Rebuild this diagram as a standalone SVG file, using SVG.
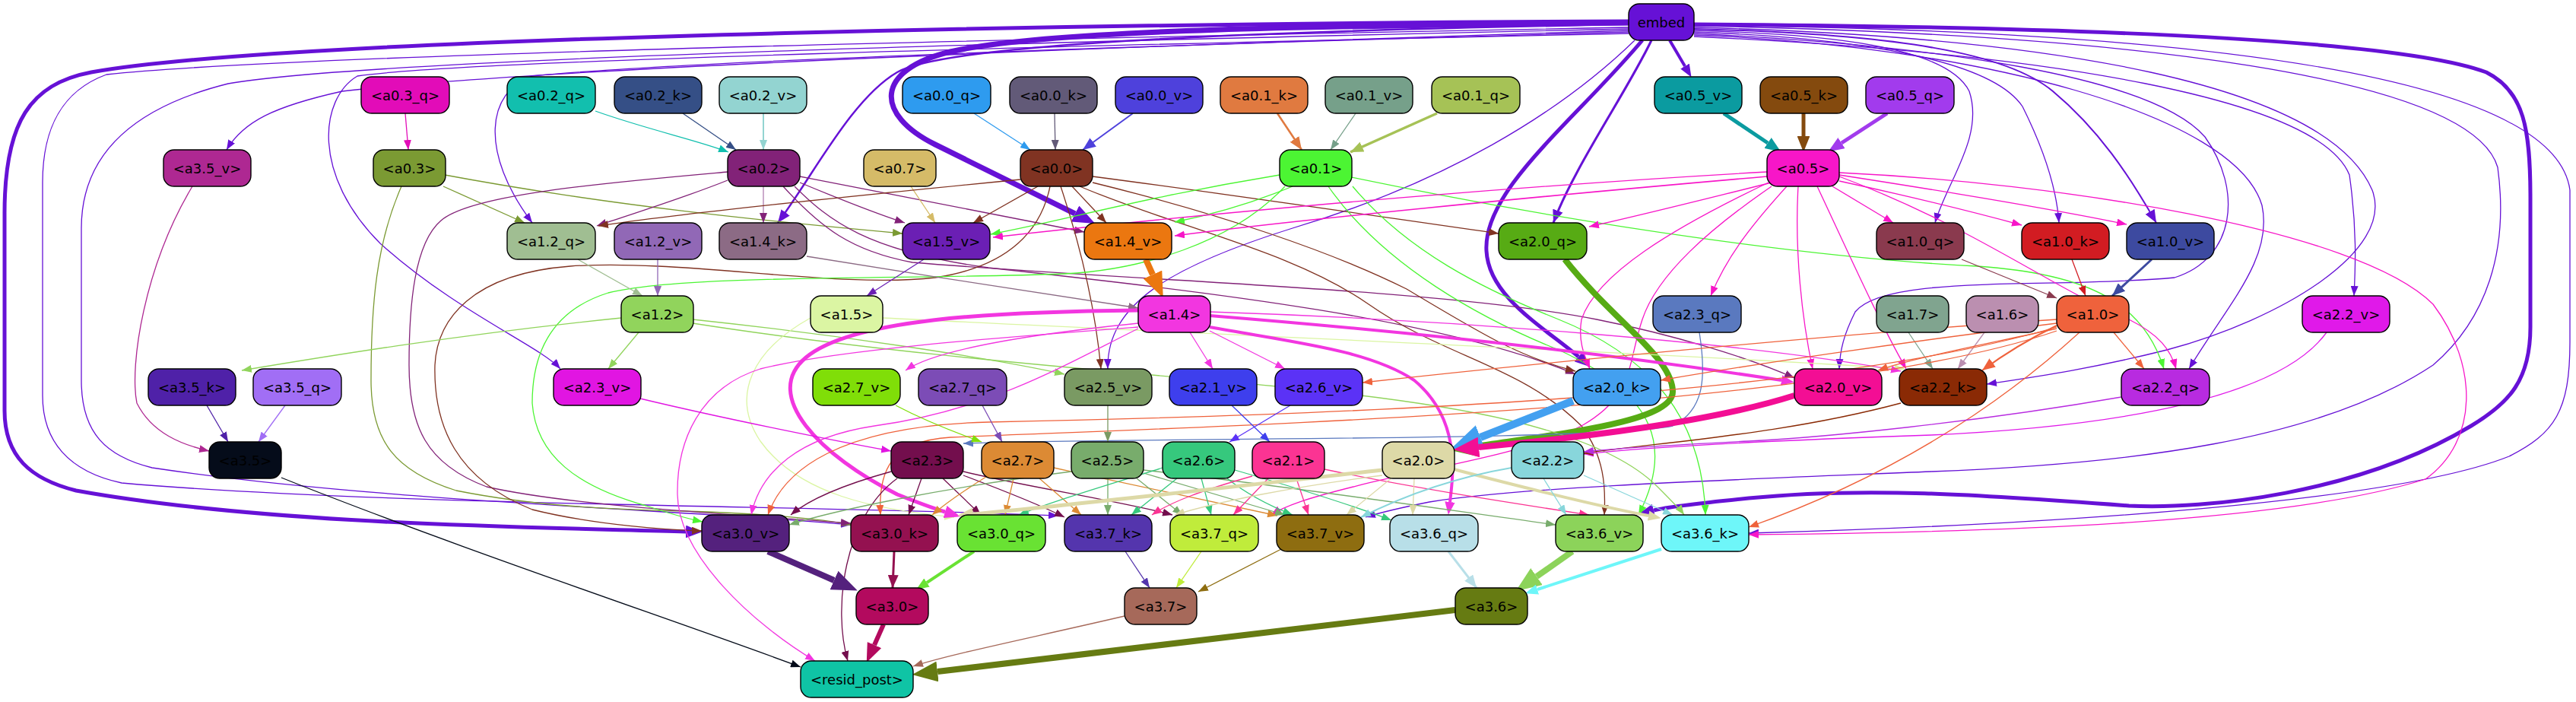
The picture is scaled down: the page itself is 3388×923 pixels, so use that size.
<svg xmlns="http://www.w3.org/2000/svg" width="3388" height="923" viewBox="0 0 3388 923">
<style>
.n rect{stroke:#000;stroke-width:1.4}
.n text{font-family:"DejaVu Sans","Liberation Sans",sans-serif;font-size:18px;text-anchor:middle;fill:#000}
</style>
<defs>
<marker id="m6611d6" viewBox="0 0 13 10" refX="13" refY="5" markerWidth="13" markerHeight="10" markerUnits="userSpaceOnUse" orient="auto"><path d="M0,0L13,5L0,10z" fill="#6611d6"/></marker>
<marker id="me20cb8" viewBox="0 0 13 10" refX="13" refY="5" markerWidth="13" markerHeight="10" markerUnits="userSpaceOnUse" orient="auto"><path d="M0,0L13,5L0,10z" fill="#e20cb8"/></marker>
<marker id="m12bfae" viewBox="0 0 13 10" refX="13" refY="5" markerWidth="13" markerHeight="10" markerUnits="userSpaceOnUse" orient="auto"><path d="M0,0L13,5L0,10z" fill="#12bfae"/></marker>
<marker id="m354f86" viewBox="0 0 13 10" refX="13" refY="5" markerWidth="13" markerHeight="10" markerUnits="userSpaceOnUse" orient="auto"><path d="M0,0L13,5L0,10z" fill="#354f86"/></marker>
<marker id="m93d4d1" viewBox="0 0 13 10" refX="13" refY="5" markerWidth="13" markerHeight="10" markerUnits="userSpaceOnUse" orient="auto"><path d="M0,0L13,5L0,10z" fill="#93d4d1"/></marker>
<marker id="m2e9bef" viewBox="0 0 13 10" refX="13" refY="5" markerWidth="13" markerHeight="10" markerUnits="userSpaceOnUse" orient="auto"><path d="M0,0L13,5L0,10z" fill="#2e9bef"/></marker>
<marker id="m625a78" viewBox="0 0 13 10" refX="13" refY="5" markerWidth="13" markerHeight="10" markerUnits="userSpaceOnUse" orient="auto"><path d="M0,0L13,5L0,10z" fill="#625a78"/></marker>
<marker id="m76a08a" viewBox="0 0 13 10" refX="13" refY="5" markerWidth="13" markerHeight="10" markerUnits="userSpaceOnUse" orient="auto"><path d="M0,0L13,5L0,10z" fill="#76a08a"/></marker>
<marker id="m7b9a33" viewBox="0 0 13 10" refX="13" refY="5" markerWidth="13" markerHeight="10" markerUnits="userSpaceOnUse" orient="auto"><path d="M0,0L13,5L0,10z" fill="#7b9a33"/></marker>
<marker id="m822278" viewBox="0 0 13 10" refX="13" refY="5" markerWidth="13" markerHeight="10" markerUnits="userSpaceOnUse" orient="auto"><path d="M0,0L13,5L0,10z" fill="#822278"/></marker>
<marker id="md5bb68" viewBox="0 0 13 10" refX="13" refY="5" markerWidth="13" markerHeight="10" markerUnits="userSpaceOnUse" orient="auto"><path d="M0,0L13,5L0,10z" fill="#d5bb68"/></marker>
<marker id="m803322" viewBox="0 0 13 10" refX="13" refY="5" markerWidth="13" markerHeight="10" markerUnits="userSpaceOnUse" orient="auto"><path d="M0,0L13,5L0,10z" fill="#803322"/></marker>
<marker id="m4cf533" viewBox="0 0 13 10" refX="13" refY="5" markerWidth="13" markerHeight="10" markerUnits="userSpaceOnUse" orient="auto"><path d="M0,0L13,5L0,10z" fill="#4cf533"/></marker>
<marker id="mf716c8" viewBox="0 0 13 10" refX="13" refY="5" markerWidth="13" markerHeight="10" markerUnits="userSpaceOnUse" orient="auto"><path d="M0,0L13,5L0,10z" fill="#f716c8"/></marker>
<marker id="ma0be92" viewBox="0 0 13 10" refX="13" refY="5" markerWidth="13" markerHeight="10" markerUnits="userSpaceOnUse" orient="auto"><path d="M0,0L13,5L0,10z" fill="#a0be92"/></marker>
<marker id="m9168b6" viewBox="0 0 13 10" refX="13" refY="5" markerWidth="13" markerHeight="10" markerUnits="userSpaceOnUse" orient="auto"><path d="M0,0L13,5L0,10z" fill="#9168b6"/></marker>
<marker id="m8c6b85" viewBox="0 0 13 10" refX="13" refY="5" markerWidth="13" markerHeight="10" markerUnits="userSpaceOnUse" orient="auto"><path d="M0,0L13,5L0,10z" fill="#8c6b85"/></marker>
<marker id="m6b1fb4" viewBox="0 0 13 10" refX="13" refY="5" markerWidth="13" markerHeight="10" markerUnits="userSpaceOnUse" orient="auto"><path d="M0,0L13,5L0,10z" fill="#6b1fb4"/></marker>
<marker id="m8a3a4e" viewBox="0 0 13 10" refX="13" refY="5" markerWidth="13" markerHeight="10" markerUnits="userSpaceOnUse" orient="auto"><path d="M0,0L13,5L0,10z" fill="#8a3a4e"/></marker>
<marker id="md21c22" viewBox="0 0 13 10" refX="13" refY="5" markerWidth="13" markerHeight="10" markerUnits="userSpaceOnUse" orient="auto"><path d="M0,0L13,5L0,10z" fill="#d21c22"/></marker>
<marker id="m91d45c" viewBox="0 0 13 10" refX="13" refY="5" markerWidth="13" markerHeight="10" markerUnits="userSpaceOnUse" orient="auto"><path d="M0,0L13,5L0,10z" fill="#91d45c"/></marker>
<marker id="mdbf5a3" viewBox="0 0 13 10" refX="13" refY="5" markerWidth="13" markerHeight="10" markerUnits="userSpaceOnUse" orient="auto"><path d="M0,0L13,5L0,10z" fill="#dbf5a3"/></marker>
<marker id="mf236e0" viewBox="0 0 13 10" refX="13" refY="5" markerWidth="13" markerHeight="10" markerUnits="userSpaceOnUse" orient="auto"><path d="M0,0L13,5L0,10z" fill="#f236e0"/></marker>
<marker id="m5a79bf" viewBox="0 0 13 10" refX="13" refY="5" markerWidth="13" markerHeight="10" markerUnits="userSpaceOnUse" orient="auto"><path d="M0,0L13,5L0,10z" fill="#5a79bf"/></marker>
<marker id="m80a48f" viewBox="0 0 13 10" refX="13" refY="5" markerWidth="13" markerHeight="10" markerUnits="userSpaceOnUse" orient="auto"><path d="M0,0L13,5L0,10z" fill="#80a48f"/></marker>
<marker id="mbb8fb0" viewBox="0 0 13 10" refX="13" refY="5" markerWidth="13" markerHeight="10" markerUnits="userSpaceOnUse" orient="auto"><path d="M0,0L13,5L0,10z" fill="#bb8fb0"/></marker>
<marker id="mef623c" viewBox="0 0 13 10" refX="13" refY="5" markerWidth="13" markerHeight="10" markerUnits="userSpaceOnUse" orient="auto"><path d="M0,0L13,5L0,10z" fill="#ef623c"/></marker>
<marker id="me019e9" viewBox="0 0 13 10" refX="13" refY="5" markerWidth="13" markerHeight="10" markerUnits="userSpaceOnUse" orient="auto"><path d="M0,0L13,5L0,10z" fill="#e019e9"/></marker>
<marker id="m4f21a8" viewBox="0 0 13 10" refX="13" refY="5" markerWidth="13" markerHeight="10" markerUnits="userSpaceOnUse" orient="auto"><path d="M0,0L13,5L0,10z" fill="#4f21a8"/></marker>
<marker id="ma16ef5" viewBox="0 0 13 10" refX="13" refY="5" markerWidth="13" markerHeight="10" markerUnits="userSpaceOnUse" orient="auto"><path d="M0,0L13,5L0,10z" fill="#a16ef5"/></marker>
<marker id="mae2892" viewBox="0 0 13 10" refX="13" refY="5" markerWidth="13" markerHeight="10" markerUnits="userSpaceOnUse" orient="auto"><path d="M0,0L13,5L0,10z" fill="#ae2892"/></marker>
<marker id="me115e2" viewBox="0 0 13 10" refX="13" refY="5" markerWidth="13" markerHeight="10" markerUnits="userSpaceOnUse" orient="auto"><path d="M0,0L13,5L0,10z" fill="#e115e2"/></marker>
<marker id="m80de08" viewBox="0 0 13 10" refX="13" refY="5" markerWidth="13" markerHeight="10" markerUnits="userSpaceOnUse" orient="auto"><path d="M0,0L13,5L0,10z" fill="#80de08"/></marker>
<marker id="m7c4cb6" viewBox="0 0 13 10" refX="13" refY="5" markerWidth="13" markerHeight="10" markerUnits="userSpaceOnUse" orient="auto"><path d="M0,0L13,5L0,10z" fill="#7c4cb6"/></marker>
<marker id="m7a9a63" viewBox="0 0 13 10" refX="13" refY="5" markerWidth="13" markerHeight="10" markerUnits="userSpaceOnUse" orient="auto"><path d="M0,0L13,5L0,10z" fill="#7a9a63"/></marker>
<marker id="m3e3fed" viewBox="0 0 13 10" refX="13" refY="5" markerWidth="13" markerHeight="10" markerUnits="userSpaceOnUse" orient="auto"><path d="M0,0L13,5L0,10z" fill="#3e3fed"/></marker>
<marker id="m5b32f6" viewBox="0 0 13 10" refX="13" refY="5" markerWidth="13" markerHeight="10" markerUnits="userSpaceOnUse" orient="auto"><path d="M0,0L13,5L0,10z" fill="#5b32f6"/></marker>
<marker id="m8a2a05" viewBox="0 0 13 10" refX="13" refY="5" markerWidth="13" markerHeight="10" markerUnits="userSpaceOnUse" orient="auto"><path d="M0,0L13,5L0,10z" fill="#8a2a05"/></marker>
<marker id="mb82be0" viewBox="0 0 13 10" refX="13" refY="5" markerWidth="13" markerHeight="10" markerUnits="userSpaceOnUse" orient="auto"><path d="M0,0L13,5L0,10z" fill="#b82be0"/></marker>
<marker id="m050c1a" viewBox="0 0 13 10" refX="13" refY="5" markerWidth="13" markerHeight="10" markerUnits="userSpaceOnUse" orient="auto"><path d="M0,0L13,5L0,10z" fill="#050c1a"/></marker>
<marker id="m730e4d" viewBox="0 0 13 10" refX="13" refY="5" markerWidth="13" markerHeight="10" markerUnits="userSpaceOnUse" orient="auto"><path d="M0,0L13,5L0,10z" fill="#730e4d"/></marker>
<marker id="mdc8a34" viewBox="0 0 13 10" refX="13" refY="5" markerWidth="13" markerHeight="10" markerUnits="userSpaceOnUse" orient="auto"><path d="M0,0L13,5L0,10z" fill="#dc8a34"/></marker>
<marker id="m78ac6c" viewBox="0 0 13 10" refX="13" refY="5" markerWidth="13" markerHeight="10" markerUnits="userSpaceOnUse" orient="auto"><path d="M0,0L13,5L0,10z" fill="#78ac6c"/></marker>
<marker id="m36c87d" viewBox="0 0 13 10" refX="13" refY="5" markerWidth="13" markerHeight="10" markerUnits="userSpaceOnUse" orient="auto"><path d="M0,0L13,5L0,10z" fill="#36c87d"/></marker>
<marker id="mfb3493" viewBox="0 0 13 10" refX="13" refY="5" markerWidth="13" markerHeight="10" markerUnits="userSpaceOnUse" orient="auto"><path d="M0,0L13,5L0,10z" fill="#fb3493"/></marker>
<marker id="mddd9a7" viewBox="0 0 13 10" refX="13" refY="5" markerWidth="13" markerHeight="10" markerUnits="userSpaceOnUse" orient="auto"><path d="M0,0L13,5L0,10z" fill="#ddd9a7"/></marker>
<marker id="m88d6db" viewBox="0 0 13 10" refX="13" refY="5" markerWidth="13" markerHeight="10" markerUnits="userSpaceOnUse" orient="auto"><path d="M0,0L13,5L0,10z" fill="#88d6db"/></marker>
<marker id="m5435ad" viewBox="0 0 13 10" refX="13" refY="5" markerWidth="13" markerHeight="10" markerUnits="userSpaceOnUse" orient="auto"><path d="M0,0L13,5L0,10z" fill="#5435ad"/></marker>
<marker id="mc0ec3b" viewBox="0 0 13 10" refX="13" refY="5" markerWidth="13" markerHeight="10" markerUnits="userSpaceOnUse" orient="auto"><path d="M0,0L13,5L0,10z" fill="#c0ec3b"/></marker>
<marker id="m8e6d10" viewBox="0 0 13 10" refX="13" refY="5" markerWidth="13" markerHeight="10" markerUnits="userSpaceOnUse" orient="auto"><path d="M0,0L13,5L0,10z" fill="#8e6d10"/></marker>
<marker id="ma6695a" viewBox="0 0 13 10" refX="13" refY="5" markerWidth="13" markerHeight="10" markerUnits="userSpaceOnUse" orient="auto"><path d="M0,0L13,5L0,10z" fill="#a6695a"/></marker>
<marker id="n6611d6" viewBox="0 0 17 14" refX="17" refY="7" markerWidth="17" markerHeight="14" markerUnits="userSpaceOnUse" orient="auto"><path d="M0,0L17,7L0,14z" fill="#6611d6"/></marker>
<marker id="n4e41dc" viewBox="0 0 17 14" refX="17" refY="7" markerWidth="17" markerHeight="14" markerUnits="userSpaceOnUse" orient="auto"><path d="M0,0L17,7L0,14z" fill="#4e41dc"/></marker>
<marker id="ne07a40" viewBox="0 0 17 14" refX="17" refY="7" markerWidth="17" markerHeight="14" markerUnits="userSpaceOnUse" orient="auto"><path d="M0,0L17,7L0,14z" fill="#e07a40"/></marker>
<marker id="na6c256" viewBox="0 0 17 14" refX="17" refY="7" markerWidth="17" markerHeight="14" markerUnits="userSpaceOnUse" orient="auto"><path d="M0,0L17,7L0,14z" fill="#a6c256"/></marker>
<marker id="n3d4aa0" viewBox="0 0 17 14" refX="17" refY="7" markerWidth="17" markerHeight="14" markerUnits="userSpaceOnUse" orient="auto"><path d="M0,0L17,7L0,14z" fill="#3d4aa0"/></marker>
<marker id="n941150" viewBox="0 0 17 14" refX="17" refY="7" markerWidth="17" markerHeight="14" markerUnits="userSpaceOnUse" orient="auto"><path d="M0,0L17,7L0,14z" fill="#941150"/></marker>
<marker id="nb8dfe8" viewBox="0 0 17 14" refX="17" refY="7" markerWidth="17" markerHeight="14" markerUnits="userSpaceOnUse" orient="auto"><path d="M0,0L17,7L0,14z" fill="#b8dfe8"/></marker>
<marker id="nef623c" viewBox="0 0 17 14" refX="17" refY="7" markerWidth="17" markerHeight="14" markerUnits="userSpaceOnUse" orient="auto"><path d="M0,0L17,7L0,14z" fill="#ef623c"/></marker>
<marker id="t6611d6" viewBox="0 0 10 8" refX="0" refY="4" markerWidth="4.2" markerHeight="3.36" orient="auto"><path d="M0,0L10,4L0,8z" fill="#6611d6"/></marker>
<marker id="t0b9ba0" viewBox="0 0 10 8" refX="0" refY="4" markerWidth="4.2" markerHeight="3.36" orient="auto"><path d="M0,0L10,4L0,8z" fill="#0b9ba0"/></marker>
<marker id="t844a0e" viewBox="0 0 10 8" refX="0" refY="4" markerWidth="4.2" markerHeight="3.36" orient="auto"><path d="M0,0L10,4L0,8z" fill="#844a0e"/></marker>
<marker id="ta23bed" viewBox="0 0 10 8" refX="0" refY="4" markerWidth="4.2" markerHeight="3.36" orient="auto"><path d="M0,0L10,4L0,8z" fill="#a23bed"/></marker>
<marker id="teb7710" viewBox="0 0 10 8" refX="0" refY="4" markerWidth="4.2" markerHeight="3.36" orient="auto"><path d="M0,0L10,4L0,8z" fill="#eb7710"/></marker>
<marker id="tf236e0" viewBox="0 0 10 8" refX="0" refY="4" markerWidth="4.2" markerHeight="3.36" orient="auto"><path d="M0,0L10,4L0,8z" fill="#f236e0"/></marker>
<marker id="t57ab14" viewBox="0 0 10 8" refX="0" refY="4" markerWidth="4.2" markerHeight="3.36" orient="auto"><path d="M0,0L10,4L0,8z" fill="#57ab14"/></marker>
<marker id="t43a0f0" viewBox="0 0 10 8" refX="0" refY="4" markerWidth="4.2" markerHeight="3.36" orient="auto"><path d="M0,0L10,4L0,8z" fill="#43a0f0"/></marker>
<marker id="tf30e94" viewBox="0 0 10 8" refX="0" refY="4" markerWidth="4.2" markerHeight="3.36" orient="auto"><path d="M0,0L10,4L0,8z" fill="#f30e94"/></marker>
<marker id="tddd9a7" viewBox="0 0 10 8" refX="0" refY="4" markerWidth="4.2" markerHeight="3.36" orient="auto"><path d="M0,0L10,4L0,8z" fill="#ddd9a7"/></marker>
<marker id="t54217d" viewBox="0 0 10 8" refX="0" refY="4" markerWidth="4.2" markerHeight="3.36" orient="auto"><path d="M0,0L10,4L0,8z" fill="#54217d"/></marker>
<marker id="t69e233" viewBox="0 0 10 8" refX="0" refY="4" markerWidth="4.2" markerHeight="3.36" orient="auto"><path d="M0,0L10,4L0,8z" fill="#69e233"/></marker>
<marker id="t8cd35a" viewBox="0 0 10 8" refX="0" refY="4" markerWidth="4.2" markerHeight="3.36" orient="auto"><path d="M0,0L10,4L0,8z" fill="#8cd35a"/></marker>
<marker id="t6ef6f9" viewBox="0 0 10 8" refX="0" refY="4" markerWidth="4.2" markerHeight="3.36" orient="auto"><path d="M0,0L10,4L0,8z" fill="#6ef6f9"/></marker>
<marker id="tb30a5e" viewBox="0 0 10 8" refX="0" refY="4" markerWidth="4.2" markerHeight="3.36" orient="auto"><path d="M0,0L10,4L0,8z" fill="#b30a5e"/></marker>
<marker id="t667b12" viewBox="0 0 10 8" refX="0" refY="4" markerWidth="4.2" markerHeight="3.36" orient="auto"><path d="M0,0L10,4L0,8z" fill="#667b12"/></marker>
</defs>
<rect width="3388" height="923" fill="#fff"/>
<g id="connectors" fill="none" stroke-width="1.3">
<!-- embed -->
<path d="M2142,28 C1600,30 400,45 120,95 C40,110 6,160 6,280 L6,540 C6,600 40,630 100,645 C350,690 700,693 902,699" stroke="#6611d6" stroke-width="5" marker-end="url(#t6611d6)"/>
<path d="M2142,30 C1750,34 1380,38 1250,68 C1150,92 1150,150 1230,190 L1414,281" stroke="#6611d6" stroke-width="7" marker-end="url(#t6611d6)"/>
<path d="M2142,32 C1700,40 1250,55 1180,95 C1120,130 1070,230 1023,293" stroke="#6611d6" stroke-width="2.5" marker-end="url(#n6611d6)"/>
<path d="M2160,53 C2070,160 1950,250 1955,330 C1958,390 2030,430 2076,469" stroke="#6611d6" stroke-width="5" marker-end="url(#t6611d6)"/>
<path d="M2172,53 C2140,120 2070,220 2043,293" stroke="#6611d6" stroke-width="3" marker-end="url(#n6611d6)"/>
<path d="M2196,53 L2216,87" stroke="#6611d6" stroke-width="4" marker-end="url(#t6611d6)"/>
<path d="M2228,32 C2700,35 3150,50 3270,95 C3320,120 3328,170 3328,260 L3328,430 C3328,500 3300,530 3250,560 C3100,650 2900,670 2800,665 C2600,650 2450,640 2300,655 C2230,662 2195,666 2175,671" stroke="#6611d6" stroke-width="5" marker-end="url(#t6611d6)"/>
<path d="M2150,53 C2050,150 1900,240 1700,300 C1540,350 1455,400 1457,485" stroke="#6611d6" marker-end="url(#m6611d6)"/>
<path d="M2142,40 C1500,60 700,90 450,120 C360,140 320,160 298,197" stroke="#6611d6" marker-end="url(#m6611d6)"/>
<path d="M2142,42 C1500,60 900,80 700,100 C640,120 630,200 700,293" stroke="#6611d6" marker-end="url(#m6611d6)"/>
<path d="M2142,44 C1400,60 600,80 470,100 C420,130 410,230 500,320 C600,410 710,455 737,485" stroke="#6611d6" marker-end="url(#m6611d6)"/>
<path d="M2142,36 C1500,48 400,70 140,98 C80,120 56,170 56,240 L56,520 C56,580 90,620 160,635 C500,665 1100,665 1392,678" stroke="#6611d6" marker-end="url(#m6611d6)"/>
<path d="M2142,38 C1500,52 500,75 300,110 C180,140 107,200 107,300 L107,500 C107,570 140,600 200,615 C500,660 900,670 1119,690" stroke="#6611d6" marker-end="url(#m6611d6)"/>
<path d="M2228,40 C2400,45 2560,60 2590,120 C2610,180 2560,240 2545,293" stroke="#6611d6" marker-end="url(#m6611d6)"/>
<path d="M2228,42 C2450,50 2620,80 2660,140 C2690,200 2705,250 2708,293" stroke="#6611d6" marker-end="url(#m6611d6)"/>
<path d="M2228,38 C2500,45 2640,70 2700,120 C2760,170 2800,230 2836,293" stroke="#6611d6" stroke-width="2" marker-end="url(#n6611d6)"/>
<path d="M2228,44 C2550,60 2830,100 2900,180 C2950,250 2940,340 2860,365 C2700,380 2480,360 2440,410 C2425,440 2420,460 2419,485" stroke="#6611d6" marker-end="url(#m6611d6)"/>
<path d="M2228,46 C2600,60 2940,150 2975,270 C2990,340 2930,400 2879,485" stroke="#6611d6" marker-end="url(#m6611d6)"/>
<path d="M2228,48 C2700,70 3050,130 3090,230 C3100,300 3098,350 3096,389" stroke="#6611d6" marker-end="url(#m6611d6)"/>
<path d="M2228,36 C2700,48 3060,110 3120,250 C3150,330 3000,420 2850,460 C2750,485 2680,495 2613,505" stroke="#6611d6" marker-end="url(#m6611d6)"/>
<path d="M2228,34 C2800,45 3250,100 3285,220 C3300,330 3270,420 3200,480 C3050,580 2800,610 2540,620 C2300,630 2000,640 1880,660 C1840,668 1815,674 1796,680" stroke="#6611d6" marker-end="url(#m6611d6)"/>
<path d="M2228,33 C2900,40 3360,100 3380,250 L3380,450 C3380,540 3360,570 3300,600 C3150,660 2700,690 2300,701" stroke="#6611d6" marker-end="url(#m6611d6)"/>
<!-- row 2 -> row 3 -->
<path d="M533,149 L537,197" stroke="#e20cb8" marker-end="url(#me20cb8)"/>
<path d="M783,146 C850,170 920,185 958,200" stroke="#12bfae" marker-end="url(#m12bfae)"/>
<path d="M898,149 L968,197" stroke="#354f86" marker-end="url(#m354f86)"/>
<path d="M1004,149 L1004,197" stroke="#93d4d1" stroke-width="2" marker-end="url(#m93d4d1)"/>
<path d="M1281,149 L1355,197" stroke="#2e9bef" marker-end="url(#m2e9bef)"/>
<path d="M1387,149 L1388,197" stroke="#625a78" marker-end="url(#m625a78)"/>
<path d="M1490,149 L1424,197" stroke="#4e41dc" stroke-width="2" marker-end="url(#n4e41dc)"/>
<path d="M1680,149 L1712,197" stroke="#e07a40" stroke-width="2.5" marker-end="url(#ne07a40)"/>
<path d="M1783,149 L1750,197" stroke="#76a08a" marker-end="url(#m76a08a)"/>
<path d="M1890,149 L1776,200" stroke="#a6c256" stroke-width="3.5" marker-end="url(#na6c256)"/>
<path d="M2267,149 L2325,188" stroke="#0b9ba0" stroke-width="5" marker-end="url(#t0b9ba0)"/>
<path d="M2372,149 L2372,179" stroke="#844a0e" stroke-width="5" marker-end="url(#t844a0e)"/>
<path d="M2482,149 L2422,188" stroke="#a23bed" stroke-width="5" marker-end="url(#ta23bed)"/>
<!-- row 3 sources -->
<path d="M583,245 L690,293" stroke="#7b9a33" marker-end="url(#m7b9a33)"/>
<path d="M585,230 C800,270 1000,290 1187,307" stroke="#7b9a33" marker-end="url(#m7b9a33)"/>
<path d="M528,245 C495,320 488,400 488,500 C488,580 520,620 600,645 C700,665 800,670 900,672 C1000,675 1080,682 1119,690" stroke="#7b9a33" marker-end="url(#m7b9a33)"/>
<path d="M957,237 C900,260 820,285 785,297" stroke="#822278" marker-end="url(#m822278)"/>
<path d="M1004,245 L1004,293" stroke="#b07fb0" marker-end="url(#m822278)"/>
<path d="M1052,240 C1100,260 1150,280 1190,293" stroke="#822278" marker-end="url(#m822278)"/>
<path d="M1052,232 C1200,260 1350,290 1426,305" stroke="#822278" marker-end="url(#m822278)"/>
<path d="M1030,245 C1080,300 1120,330 1200,345 C1500,370 1900,380 2100,420 C2200,440 2300,470 2360,497" stroke="#822278" marker-end="url(#m822278)"/>
<path d="M1045,245 C1090,290 1140,330 1300,352 C1600,385 1900,420 2072,492" stroke="#822278" marker-end="url(#m822278)"/>
<path d="M957,226 C800,240 620,255 580,290 C545,320 538,400 538,480 C538,560 560,610 640,640 C750,665 950,675 1119,688" stroke="#822278" marker-end="url(#m822278)"/>
<path d="M1198,245 L1230,293" stroke="#d5bb68" marker-end="url(#md5bb68)"/>
<path d="M1365,245 L1280,293" stroke="#803322" marker-end="url(#m803322)"/>
<path d="M1410,245 L1455,293" stroke="#803322" marker-end="url(#m803322)"/>
<path d="M1342,236 C1100,260 900,280 787,297" stroke="#803322" marker-end="url(#m803322)"/>
<path d="M1437,232 C1650,260 1850,290 1971,307" stroke="#803322" marker-end="url(#m803322)"/>
<path d="M1437,240 C1600,280 1750,330 1850,380 C1950,440 2000,470 2072,488" stroke="#803322" marker-end="url(#m803322)"/>
<path d="M1395,245 C1420,320 1440,400 1448,485" stroke="#803322" marker-end="url(#m803322)"/>
<path d="M1381,245 C1370,300 1330,350 1230,365 C1100,380 900,340 750,350 C620,360 575,420 572,480 C570,560 600,630 700,670 C780,690 880,697 923,698" stroke="#803322" marker-end="url(#m803322)"/>
<path d="M1420,245 C1550,300 1700,330 1800,400 C1900,470 2000,480 2080,560 C2110,600 2112,640 2110,677" stroke="#803322" marker-end="url(#m803322)"/>
<path d="M1683,230 C1500,260 1400,290 1303,308" stroke="#4cf533" marker-end="url(#m4cf533)"/>
<path d="M1700,245 C1640,270 1580,285 1545,292" stroke="#4cf533" marker-end="url(#m4cf533)"/>
<path d="M1777,233 C2100,300 2400,340 2600,350 C2750,360 2820,400 2846,485" stroke="#4cf533" marker-end="url(#m4cf533)"/>
<path d="M1690,245 C1620,320 1500,355 1400,360 C1200,368 900,360 800,385 C720,410 700,470 700,530 C705,600 760,640 850,665 C880,675 905,682 924,686" stroke="#4cf533" marker-end="url(#m4cf533)"/>
<path d="M1747,245 C1820,350 1950,420 2050,460 C2180,520 2200,590 2155,677" stroke="#4cf533" marker-end="url(#m4cf533)"/>
<path d="M1779,245 C1850,330 1950,380 2050,420 C2200,480 2240,580 2243,677" stroke="#4cf533" marker-end="url(#m4cf533)"/>
<path d="M2324,232 C2000,260 1700,290 1545,310" stroke="#f716c8" stroke-width="1.6" marker-end="url(#mf716c8)"/>
<path d="M2324,226 C1900,250 1500,290 1306,312" stroke="#f716c8" marker-end="url(#mf716c8)"/>
<path d="M2330,240 C2250,260 2150,285 2090,298" stroke="#f716c8" marker-end="url(#mf716c8)"/>
<path d="M2410,245 L2490,293" stroke="#f716c8" marker-end="url(#mf716c8)"/>
<path d="M2419,238 C2520,260 2600,280 2659,296" stroke="#f716c8" marker-end="url(#mf716c8)"/>
<path d="M2419,230 C2580,255 2700,275 2797,295" stroke="#f716c8" marker-end="url(#mf716c8)"/>
<path d="M2350,245 C2300,300 2270,340 2250,389" stroke="#f716c8" marker-end="url(#mf716c8)"/>
<path d="M2326,240 C2200,300 2100,360 2080,420 C2075,450 2085,470 2091,485" stroke="#f716c8" marker-end="url(#mf716c8)"/>
<path d="M2365,245 C2360,330 2370,420 2384,485" stroke="#f716c8" marker-end="url(#mf716c8)"/>
<path d="M2390,245 C2430,330 2470,420 2507,485" stroke="#f716c8" marker-end="url(#mf716c8)"/>
<path d="M2419,232 C2600,300 2700,380 2800,420 C2840,440 2855,460 2862,485" stroke="#f716c8" marker-end="url(#mf716c8)"/>
<path d="M2419,227 C2700,240 3100,300 3200,400 C3260,480 3260,580 3190,630 C3000,690 2600,700 2300,703" stroke="#f716c8" marker-end="url(#mf716c8)"/>
<path d="M2330,245 C2250,300 2180,360 2160,420 C2140,480 2150,520 2080,560 C2000,600 1850,620 1780,640 C1720,655 1690,665 1672,677" stroke="#f716c8" marker-end="url(#mf716c8)"/>
<!-- row 4 sources -->
<path d="M760,341 L845,389" stroke="#a0be92" marker-end="url(#ma0be92)"/>
<path d="M865,341 L865,389" stroke="#9168b6" marker-end="url(#m9168b6)"/>
<path d="M1061,337 C1200,360 1400,390 1497,405" stroke="#8c6b85" marker-end="url(#m8c6b85)"/>
<path d="M1215,341 L1140,389" stroke="#6b1fb4" marker-end="url(#m6b1fb4)"/>
<path d="M1507,341 L1516,361" stroke="#eb7710" stroke-width="8" marker-end="url(#teb7710)"/>
<path d="M2580,341 L2705,392" stroke="#8a3a4e" marker-end="url(#m8a3a4e)"/>
<path d="M2725,341 L2743,389" stroke="#d21c22" marker-end="url(#md21c22)"/>
<path d="M2830,341 L2778,389" stroke="#3d4aa0" stroke-width="3" marker-end="url(#n3d4aa0)"/>
<path d="M2058,341 C2120,420 2200,470 2200,515 C2200,555 2050,570 1942,587" stroke="#57ab14" stroke-width="8" marker-end="url(#t57ab14)"/>
<!-- row 5 sources -->
<path d="M817,418 C600,440 420,470 318,487" stroke="#91d45c" marker-end="url(#m91d45c)"/>
<path d="M840,437 L800,485" stroke="#91d45c" marker-end="url(#m91d45c)"/>
<path d="M911,420 C1100,440 1300,470 1400,492" stroke="#91d45c" marker-end="url(#m91d45c)"/>
<path d="M911,425 C1200,470 1500,490 1700,510 C1900,530 2100,560 2180,640 C2200,660 2210,670 2215,677" stroke="#91d45c" marker-end="url(#m91d45c)"/>
<path d="M1066,418 C990,460 960,520 1000,580 C1050,650 1150,670 1255,680" stroke="#dbf5a3" marker-end="url(#mdbf5a3)"/>
<path d="M1161,418 C1600,440 2200,465 2505,485" stroke="#dbf5a3" marker-end="url(#mdbf5a3)"/>
<path d="M1497,408 C1300,410 1120,420 1060,470 C1000,520 1080,600 1180,650 C1210,662 1230,669 1243,673" stroke="#f236e0" stroke-width="5" marker-end="url(#tf236e0)"/>
<path d="M1591,415 C1900,440 2150,470 2343,500" stroke="#f236e0" stroke-width="4" marker-end="url(#tf236e0)"/>
<path d="M1591,430 C1700,450 1800,460 1860,500 C1920,550 1912,620 1907,660" stroke="#f236e0" stroke-width="4" marker-end="url(#tf236e0)"/>
<path d="M1565,437 L1595,485" stroke="#f236e0" marker-end="url(#mf236e0)"/>
<path d="M1591,435 L1690,485" stroke="#f236e0" marker-end="url(#mf236e0)"/>
<path d="M1497,425 C1350,440 1230,460 1191,487" stroke="#f236e0" marker-end="url(#mf236e0)"/>
<path d="M1497,432 C1400,480 1300,540 1150,560 C1050,575 1000,620 988,677" stroke="#f236e0" marker-end="url(#mf236e0)"/>
<path d="M1497,430 C1300,445 1100,460 1000,485 C920,510 890,580 891,650 C892,730 990,820 1072,869" stroke="#f236e0" marker-end="url(#mf236e0)"/>
<path d="M1591,410 C1900,420 2300,450 2500,488" stroke="#f236e0" marker-end="url(#mf236e0)"/>
<path d="M2235,437 C2245,500 2240,540 2200,560 C2100,580 1500,575 1267,583" stroke="#5a79bf" marker-end="url(#m5a79bf)"/>
<path d="M2510,437 L2542,485" stroke="#80a48f" marker-end="url(#m80a48f)"/>
<path d="M2610,437 L2575,485" stroke="#bb8fb0" marker-end="url(#mbb8fb0)"/>
<path d="M2705,428 C2660,450 2630,470 2607,487" stroke="#ef623c" stroke-width="2" marker-end="url(#nef623c)"/>
<path d="M2780,437 L2820,485" stroke="#ef623c" marker-end="url(#mef623c)"/>
<path d="M2705,432 C2600,455 2520,470 2470,487" stroke="#ef623c" marker-end="url(#mef623c)"/>
<path d="M2705,425 C2500,450 2300,480 2184,500" stroke="#ef623c" marker-end="url(#mef623c)"/>
<path d="M2705,420 C2400,440 2000,480 1792,503" stroke="#ef623c" marker-end="url(#mef623c)"/>
<path d="M2705,430 C2400,520 1800,545 1300,555 C1100,560 1030,620 1010,677" stroke="#ef623c" marker-end="url(#mef623c)"/>
<path d="M2705,435 C2400,540 1600,560 1250,575 C1170,580 1155,620 1158,677" stroke="#ef623c" marker-end="url(#mef623c)"/>
<path d="M2735,437 C2600,560 2450,640 2300,693" stroke="#ef623c" marker-end="url(#mef623c)"/>
<path d="M3060,437 C3000,520 2800,560 2540,572 C2300,580 2150,590 2083,597" stroke="#e019e9" marker-end="url(#me019e9)"/>
<!-- row 6 sources -->
<path d="M272,533 L300,581" stroke="#4f21a8" marker-end="url(#m4f21a8)"/>
<path d="M375,533 L340,581" stroke="#a16ef5" marker-end="url(#ma16ef5)"/>
<path d="M253,245 C190,350 170,480 180,530 C200,570 240,585 275,593" stroke="#ae2892" marker-end="url(#mae2892)"/>
<path d="M842,524 C950,550 1100,580 1172,593" stroke="#e115e2" marker-end="url(#me115e2)"/>
<path d="M1178,533 C1220,555 1260,570 1291,581" stroke="#80de08" marker-end="url(#m80de08)"/>
<path d="M1292,533 L1318,581" stroke="#7c4cb6" marker-end="url(#m7c4cb6)"/>
<path d="M1457,533 L1457,581" stroke="#7a9a63" marker-end="url(#m7a9a63)"/>
<path d="M1620,533 L1670,581" stroke="#3e3fed" marker-end="url(#m3e3fed)"/>
<path d="M1697,533 L1617,581" stroke="#5b32f6" marker-end="url(#m5b32f6)"/>
<path d="M2069,527 L1947,575" stroke="#43a0f0" stroke-width="10" marker-end="url(#t43a0f0)"/>
<path d="M2360,520 C2250,555 2080,575 1945,588" stroke="#f30e94" stroke-width="8" marker-end="url(#tf30e94)"/>
<path d="M2500,530 C2350,570 2200,580 2083,596" stroke="#8a2a05" marker-end="url(#m8a2a05)"/>
<path d="M2790,522 C2600,555 2400,575 2300,580 C2200,585 2120,590 2083,594" stroke="#b82be0" marker-end="url(#mb82be0)"/>
<!-- row 7 sources -->
<path d="M370,628 C600,720 900,820 1053,877" stroke="#050c1a" marker-end="url(#m050c1a)"/>
<path d="M1172,620 C1100,640 1060,660 1040,677" stroke="#730e4d" marker-end="url(#m730e4d)"/>
<path d="M1212,629 L1195,677" stroke="#730e4d" marker-end="url(#m730e4d)"/>
<path d="M1240,629 L1290,677" stroke="#730e4d" marker-end="url(#m730e4d)"/>
<path d="M1267,625 C1320,645 1370,665 1400,680" stroke="#730e4d" marker-end="url(#m730e4d)"/>
<path d="M1267,620 C1350,640 1480,660 1542,677" stroke="#730e4d" marker-end="url(#m730e4d)"/>
<path d="M1180,629 C1110,680 1095,800 1115,869" stroke="#730e4d" marker-end="url(#m730e4d)"/>
<path d="M1333,629 L1322,677" stroke="#dc8a34" marker-end="url(#mdc8a34)"/>
<path d="M1367,629 L1422,677" stroke="#dc8a34" marker-end="url(#mdc8a34)"/>
<path d="M1300,625 C1260,650 1240,665 1226,677" stroke="#dc8a34" marker-end="url(#mdc8a34)"/>
<path d="M1386,615 C1500,640 1620,665 1680,678" stroke="#dc8a34" marker-end="url(#mdc8a34)"/>
<path d="M1457,629 L1457,677" stroke="#78ac6c" marker-end="url(#m78ac6c)"/>
<path d="M1495,629 L1555,677" stroke="#78ac6c" marker-end="url(#m78ac6c)"/>
<path d="M1409,620 C1250,640 1100,670 1038,690" stroke="#78ac6c" marker-end="url(#m78ac6c)"/>
<path d="M1504,618 C1700,640 1900,670 2046,690" stroke="#78ac6c" marker-end="url(#m78ac6c)"/>
<path d="M1504,622 C1580,645 1640,662 1690,677" stroke="#78ac6c" marker-end="url(#m78ac6c)"/>
<path d="M1548,629 L1488,677" stroke="#36c87d" marker-end="url(#m36c87d)"/>
<path d="M1580,629 L1593,677" stroke="#36c87d" marker-end="url(#m36c87d)"/>
<path d="M1624,618 C1700,640 1780,665 1830,684" stroke="#36c87d" marker-end="url(#m36c87d)"/>
<path d="M1614,629 C1640,650 1670,665 1700,677" stroke="#36c87d" marker-end="url(#m36c87d)"/>
<path d="M1529,615 C1450,640 1380,660 1340,677" stroke="#36c87d" marker-end="url(#m36c87d)"/>
<path d="M1668,629 L1622,677" stroke="#fb3493" marker-end="url(#mfb3493)"/>
<path d="M1705,629 L1721,677" stroke="#fb3493" marker-end="url(#mfb3493)"/>
<path d="M1647,626 C1580,645 1540,660 1515,677" stroke="#fb3493" marker-end="url(#mfb3493)"/>
<path d="M1742,617 C1850,640 1980,660 2090,677" stroke="#fb3493" marker-end="url(#mfb3493)"/>
<path d="M1818,618 C1620,640 1450,660 1280,676" stroke="#ddd9a7" stroke-width="5" marker-end="url(#tddd9a7)"/>
<path d="M1912,617 C2000,640 2100,665 2168,678" stroke="#ddd9a7" stroke-width="4" marker-end="url(#tddd9a7)"/>
<path d="M1860,629 L1858,677" stroke="#ddd9a7" marker-end="url(#mddd9a7)"/>
<path d="M1832,627 L1771,677" stroke="#ddd9a7" marker-end="url(#mddd9a7)"/>
<path d="M1818,625 C1700,640 1600,660 1545,677" stroke="#ddd9a7" marker-end="url(#mddd9a7)"/>
<path d="M2030,629 L2060,677" stroke="#88d6db" marker-end="url(#m88d6db)"/>
<path d="M2083,625 L2200,677" stroke="#88d6db" marker-end="url(#m88d6db)"/>
<path d="M1988,615 C1900,630 1830,660 1790,680" stroke="#88d6db" stroke-width="2" marker-end="url(#m88d6db)"/>
<!-- row 8 sources -->
<path d="M1010,725 L1097,763" stroke="#54217d" stroke-width="8" marker-end="url(#t54217d)"/>
<path d="M1176,725 L1174,773" stroke="#941150" stroke-width="3" marker-end="url(#n941150)"/>
<path d="M1281,725 L1219,766" stroke="#69e233" stroke-width="4" marker-end="url(#t69e233)"/>
<path d="M1480,725 L1512,773" stroke="#5435ad" marker-end="url(#m5435ad)"/>
<path d="M1580,725 L1547,773" stroke="#c0ec3b" marker-end="url(#mc0ec3b)"/>
<path d="M1685,722 L1576,778" stroke="#8e6d10" marker-end="url(#m8e6d10)"/>
<path d="M1905,725 L1942,773" stroke="#b8dfe8" stroke-width="3" marker-end="url(#nb8dfe8)"/>
<path d="M2068,725 L2021,758" stroke="#8cd35a" stroke-width="8" marker-end="url(#t8cd35a)"/>
<path d="M2185,722 L2022,775" stroke="#6ef6f9" stroke-width="4" marker-end="url(#t6ef6f9)"/>
<!-- row 9 sources -->
<path d="M1162,821 L1150,848" stroke="#b30a5e" stroke-width="6" marker-end="url(#tb30a5e)"/>
<path d="M1479,810 C1350,840 1250,860 1201,876" stroke="#a6695a" marker-end="url(#ma6695a)"/>
<path d="M1914,802 L1233,883" stroke="#667b12" stroke-width="8" marker-end="url(#t667b12)"/>
</g>
<g id="nodes">
<g id="n-embed" class="n"><rect x="2142" y="5" width="86" height="48" rx="14" fill="#6611d6"/><text x="2185" y="35.5">embed</text></g>
<g id="n-a0_3_q" class="n"><rect x="475" y="101" width="116" height="48" rx="14" fill="#e20cb8"/><text x="533" y="131.5">&lt;a0.3_q&gt;</text></g>
<g id="n-a0_2_q" class="n"><rect x="667" y="101" width="116" height="48" rx="14" fill="#12bfae"/><text x="725" y="131.5">&lt;a0.2_q&gt;</text></g>
<g id="n-a0_2_k" class="n"><rect x="808" y="101" width="115" height="48" rx="14" fill="#354f86"/><text x="865.5" y="131.5">&lt;a0.2_k&gt;</text></g>
<g id="n-a0_2_v" class="n"><rect x="946" y="101" width="115" height="48" rx="14" fill="#93d4d1"/><text x="1003.5" y="131.5">&lt;a0.2_v&gt;</text></g>
<g id="n-a0_0_q" class="n"><rect x="1187" y="101" width="116" height="48" rx="14" fill="#2e9bef"/><text x="1245" y="131.5">&lt;a0.0_q&gt;</text></g>
<g id="n-a0_0_k" class="n"><rect x="1328" y="101" width="115" height="48" rx="14" fill="#625a78"/><text x="1385.5" y="131.5">&lt;a0.0_k&gt;</text></g>
<g id="n-a0_0_v" class="n"><rect x="1467" y="101" width="115" height="48" rx="14" fill="#4e41dc"/><text x="1524.5" y="131.5">&lt;a0.0_v&gt;</text></g>
<g id="n-a0_1_k" class="n"><rect x="1605" y="101" width="115" height="48" rx="14" fill="#e07a40"/><text x="1662.5" y="131.5">&lt;a0.1_k&gt;</text></g>
<g id="n-a0_1_v" class="n"><rect x="1743" y="101" width="115" height="48" rx="14" fill="#76a08a"/><text x="1800.5" y="131.5">&lt;a0.1_v&gt;</text></g>
<g id="n-a0_1_q" class="n"><rect x="1883" y="101" width="116" height="48" rx="14" fill="#a6c256"/><text x="1941" y="131.5">&lt;a0.1_q&gt;</text></g>
<g id="n-a0_5_v" class="n"><rect x="2176" y="101" width="115" height="48" rx="14" fill="#0b9ba0"/><text x="2233.5" y="131.5">&lt;a0.5_v&gt;</text></g>
<g id="n-a0_5_k" class="n"><rect x="2315" y="101" width="115" height="48" rx="14" fill="#844a0e"/><text x="2372.5" y="131.5">&lt;a0.5_k&gt;</text></g>
<g id="n-a0_5_q" class="n"><rect x="2454" y="101" width="116" height="48" rx="14" fill="#a23bed"/><text x="2512" y="131.5">&lt;a0.5_q&gt;</text></g>
<g id="n-a3_5_v" class="n"><rect x="215" y="197" width="115" height="48" rx="14" fill="#ae2892"/><text x="272.5" y="227.5">&lt;a3.5_v&gt;</text></g>
<g id="n-a0_3" class="n"><rect x="491" y="197" width="95" height="48" rx="14" fill="#7b9a33"/><text x="538.5" y="227.5">&lt;a0.3&gt;</text></g>
<g id="n-a0_2" class="n"><rect x="957" y="197" width="95" height="48" rx="14" fill="#822278"/><text x="1004.5" y="227.5">&lt;a0.2&gt;</text></g>
<g id="n-a0_7" class="n"><rect x="1136" y="197" width="95" height="48" rx="14" fill="#d5bb68"/><text x="1183.5" y="227.5">&lt;a0.7&gt;</text></g>
<g id="n-a0_0" class="n"><rect x="1342" y="197" width="95" height="48" rx="14" fill="#803322"/><text x="1389.5" y="227.5">&lt;a0.0&gt;</text></g>
<g id="n-a0_1" class="n"><rect x="1683" y="197" width="95" height="48" rx="14" fill="#4cf533"/><text x="1730.5" y="227.5">&lt;a0.1&gt;</text></g>
<g id="n-a0_5" class="n"><rect x="2324" y="197" width="95" height="48" rx="14" fill="#f716c8"/><text x="2371.5" y="227.5">&lt;a0.5&gt;</text></g>
<g id="n-a1_2_q" class="n"><rect x="667" y="293" width="116" height="48" rx="14" fill="#a0be92"/><text x="725" y="323.5">&lt;a1.2_q&gt;</text></g>
<g id="n-a1_2_v" class="n"><rect x="808" y="293" width="115" height="48" rx="14" fill="#9168b6"/><text x="865.5" y="323.5">&lt;a1.2_v&gt;</text></g>
<g id="n-a1_4_k" class="n"><rect x="946" y="293" width="115" height="48" rx="14" fill="#8c6b85"/><text x="1003.5" y="323.5">&lt;a1.4_k&gt;</text></g>
<g id="n-a1_5_v" class="n"><rect x="1187" y="293" width="115" height="48" rx="14" fill="#6b1fb4"/><text x="1244.5" y="323.5">&lt;a1.5_v&gt;</text></g>
<g id="n-a1_4_v" class="n"><rect x="1426" y="293" width="115" height="48" rx="14" fill="#eb7710"/><text x="1483.5" y="323.5">&lt;a1.4_v&gt;</text></g>
<g id="n-a2_0_q" class="n"><rect x="1971" y="293" width="116" height="48" rx="14" fill="#57ab14"/><text x="2029" y="323.5">&lt;a2.0_q&gt;</text></g>
<g id="n-a1_0_q" class="n"><rect x="2468" y="293" width="115" height="48" rx="14" fill="#8a3a4e"/><text x="2525.5" y="323.5">&lt;a1.0_q&gt;</text></g>
<g id="n-a1_0_k" class="n"><rect x="2659" y="293" width="115" height="48" rx="14" fill="#d21c22"/><text x="2716.5" y="323.5">&lt;a1.0_k&gt;</text></g>
<g id="n-a1_0_v" class="n"><rect x="2797" y="293" width="115" height="48" rx="14" fill="#3d4aa0"/><text x="2854.5" y="323.5">&lt;a1.0_v&gt;</text></g>
<g id="n-a1_2" class="n"><rect x="817" y="389" width="95" height="48" rx="14" fill="#91d45c"/><text x="864.5" y="419.5">&lt;a1.2&gt;</text></g>
<g id="n-a1_5" class="n"><rect x="1066" y="389" width="95" height="48" rx="14" fill="#dbf5a3"/><text x="1113.5" y="419.5">&lt;a1.5&gt;</text></g>
<g id="n-a1_4" class="n"><rect x="1497" y="389" width="95" height="48" rx="14" fill="#f236e0"/><text x="1544.5" y="419.5">&lt;a1.4&gt;</text></g>
<g id="n-a2_3_q" class="n"><rect x="2174" y="389" width="116" height="48" rx="14" fill="#5a79bf"/><text x="2232" y="419.5">&lt;a2.3_q&gt;</text></g>
<g id="n-a1_7" class="n"><rect x="2468" y="389" width="95" height="48" rx="14" fill="#80a48f"/><text x="2515.5" y="419.5">&lt;a1.7&gt;</text></g>
<g id="n-a1_6" class="n"><rect x="2586" y="389" width="95" height="48" rx="14" fill="#bb8fb0"/><text x="2633.5" y="419.5">&lt;a1.6&gt;</text></g>
<g id="n-a1_0" class="n"><rect x="2705" y="389" width="95" height="48" rx="14" fill="#ef623c"/><text x="2752.5" y="419.5">&lt;a1.0&gt;</text></g>
<g id="n-a2_2_v" class="n"><rect x="3028" y="389" width="115" height="48" rx="14" fill="#e019e9"/><text x="3085.5" y="419.5">&lt;a2.2_v&gt;</text></g>
<g id="n-a3_5_k" class="n"><rect x="195" y="485" width="115" height="48" rx="14" fill="#4f21a8"/><text x="252.5" y="515.5">&lt;a3.5_k&gt;</text></g>
<g id="n-a3_5_q" class="n"><rect x="333" y="485" width="116" height="48" rx="14" fill="#a16ef5"/><text x="391" y="515.5">&lt;a3.5_q&gt;</text></g>
<g id="n-a2_3_v" class="n"><rect x="728" y="485" width="115" height="48" rx="14" fill="#e115e2"/><text x="785.5" y="515.5">&lt;a2.3_v&gt;</text></g>
<g id="n-a2_7_v" class="n"><rect x="1069" y="485" width="115" height="48" rx="14" fill="#80de08"/><text x="1126.5" y="515.5">&lt;a2.7_v&gt;</text></g>
<g id="n-a2_7_q" class="n"><rect x="1208" y="485" width="116" height="48" rx="14" fill="#7c4cb6"/><text x="1266" y="515.5">&lt;a2.7_q&gt;</text></g>
<g id="n-a2_5_v" class="n"><rect x="1400" y="485" width="115" height="48" rx="14" fill="#7a9a63"/><text x="1457.5" y="515.5">&lt;a2.5_v&gt;</text></g>
<g id="n-a2_1_v" class="n"><rect x="1538" y="485" width="115" height="48" rx="14" fill="#3e3fed"/><text x="1595.5" y="515.5">&lt;a2.1_v&gt;</text></g>
<g id="n-a2_6_v" class="n"><rect x="1677" y="485" width="115" height="48" rx="14" fill="#5b32f6"/><text x="1734.5" y="515.5">&lt;a2.6_v&gt;</text></g>
<g id="n-a2_0_k" class="n"><rect x="2069" y="485" width="115" height="48" rx="14" fill="#43a0f0"/><text x="2126.5" y="515.5">&lt;a2.0_k&gt;</text></g>
<g id="n-a2_0_v" class="n"><rect x="2360" y="485" width="115" height="48" rx="14" fill="#f30e94"/><text x="2417.5" y="515.5">&lt;a2.0_v&gt;</text></g>
<g id="n-a2_2_k" class="n"><rect x="2498" y="485" width="115" height="48" rx="14" fill="#8a2a05"/><text x="2555.5" y="515.5">&lt;a2.2_k&gt;</text></g>
<g id="n-a2_2_q" class="n"><rect x="2790" y="485" width="116" height="48" rx="14" fill="#b82be0"/><text x="2848" y="515.5">&lt;a2.2_q&gt;</text></g>
<g id="n-a3_5" class="n"><rect x="275" y="581" width="95" height="48" rx="14" fill="#050c1a"/><text x="322.5" y="611.5">&lt;a3.5&gt;</text></g>
<g id="n-a2_3" class="n"><rect x="1172" y="581" width="95" height="48" rx="14" fill="#730e4d"/><text x="1219.5" y="611.5">&lt;a2.3&gt;</text></g>
<g id="n-a2_7" class="n"><rect x="1291" y="581" width="95" height="48" rx="14" fill="#dc8a34"/><text x="1338.5" y="611.5">&lt;a2.7&gt;</text></g>
<g id="n-a2_5" class="n"><rect x="1409" y="581" width="95" height="48" rx="14" fill="#78ac6c"/><text x="1456.5" y="611.5">&lt;a2.5&gt;</text></g>
<g id="n-a2_6" class="n"><rect x="1529" y="581" width="95" height="48" rx="14" fill="#36c87d"/><text x="1576.5" y="611.5">&lt;a2.6&gt;</text></g>
<g id="n-a2_1" class="n"><rect x="1647" y="581" width="95" height="48" rx="14" fill="#fb3493"/><text x="1694.5" y="611.5">&lt;a2.1&gt;</text></g>
<g id="n-a2_0" class="n"><rect x="1818" y="581" width="95" height="48" rx="14" fill="#ddd9a7"/><text x="1865.5" y="611.5">&lt;a2.0&gt;</text></g>
<g id="n-a2_2" class="n"><rect x="1988" y="581" width="95" height="48" rx="14" fill="#88d6db"/><text x="2035.5" y="611.5">&lt;a2.2&gt;</text></g>
<g id="n-a3_0_v" class="n"><rect x="923" y="677" width="115" height="48" rx="14" fill="#54217d"/><text x="980.5" y="707.5">&lt;a3.0_v&gt;</text></g>
<g id="n-a3_0_k" class="n"><rect x="1119" y="677" width="115" height="48" rx="14" fill="#941150"/><text x="1176.5" y="707.5">&lt;a3.0_k&gt;</text></g>
<g id="n-a3_0_q" class="n"><rect x="1259" y="677" width="116" height="48" rx="14" fill="#69e233"/><text x="1317" y="707.5">&lt;a3.0_q&gt;</text></g>
<g id="n-a3_7_k" class="n"><rect x="1400" y="677" width="115" height="48" rx="14" fill="#5435ad"/><text x="1457.5" y="707.5">&lt;a3.7_k&gt;</text></g>
<g id="n-a3_7_q" class="n"><rect x="1539" y="677" width="116" height="48" rx="14" fill="#c0ec3b"/><text x="1597" y="707.5">&lt;a3.7_q&gt;</text></g>
<g id="n-a3_7_v" class="n"><rect x="1679" y="677" width="115" height="48" rx="14" fill="#8e6d10"/><text x="1736.5" y="707.5">&lt;a3.7_v&gt;</text></g>
<g id="n-a3_6_q" class="n"><rect x="1828" y="677" width="116" height="48" rx="14" fill="#b8dfe8"/><text x="1886" y="707.5">&lt;a3.6_q&gt;</text></g>
<g id="n-a3_6_v" class="n"><rect x="2046" y="677" width="115" height="48" rx="14" fill="#8cd35a"/><text x="2103.5" y="707.5">&lt;a3.6_v&gt;</text></g>
<g id="n-a3_6_k" class="n"><rect x="2185" y="677" width="115" height="48" rx="14" fill="#6ef6f9"/><text x="2242.5" y="707.5">&lt;a3.6_k&gt;</text></g>
<g id="n-a3_0" class="n"><rect x="1126" y="773" width="95" height="48" rx="14" fill="#b30a5e"/><text x="1173.5" y="803.5">&lt;a3.0&gt;</text></g>
<g id="n-a3_7" class="n"><rect x="1479" y="773" width="95" height="48" rx="14" fill="#a6695a"/><text x="1526.5" y="803.5">&lt;a3.7&gt;</text></g>
<g id="n-a3_6" class="n"><rect x="1914" y="773" width="95" height="48" rx="14" fill="#667b12"/><text x="1961.5" y="803.5">&lt;a3.6&gt;</text></g>
<g id="n-resid_post" class="n"><rect x="1053" y="869" width="148" height="48" rx="14" fill="#0fc4a5"/><text x="1127" y="899.5">&lt;resid_post&gt;</text></g>
</g>
</svg>
